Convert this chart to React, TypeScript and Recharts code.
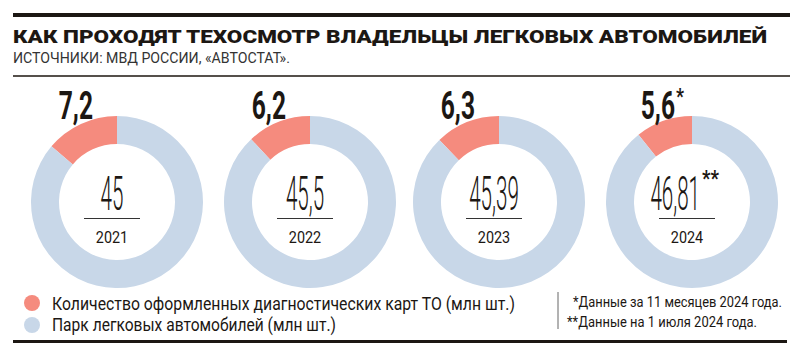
import React from 'react';
import { PieChart, Pie, Cell } from 'recharts';

const years = ['2021', '2022', '2023', '2024'];
const inspections = [7.2, 6.2, 6.3, 5.6];
const fleet = [45, 45.5, 45.39, 46.81];
const inspectionMarks = ['', '', '', '*'];
const fleetMarks = ['', '', '', '**'];
const seriesNames = [
  'Количество оформленных диагностических карт ТО (млн шт.)',
  'Парк легковых автомобилей (млн шт.)',
];
const footnotes = ['*Данные за 11 месяцев 2024 года.', '**Данные на 1 июля 2024 года.'];
const title = 'КАК ПРОХОДЯТ ТЕХОСМОТР ВЛАДЕЛЬЦЫ ЛЕГКОВЫХ АВТОМОБИЛЕЙ';
const subtitle = 'ИСТОЧНИКИ: МВД РОССИИ, «АВТОСТАТ».';

const RED = '#F58B7E';
const BLUE = '#C8D7E8';
const INK = '#1c1713';

const W = 800;
const H = 355;
const CY = 197;
const centers = [112, 305, 494, 687];
const FONT = "Roboto, 'Liberation Sans', sans-serif";

const fmt = (v: number) => String(v).replace('.', ',');

export default function App() {
  return (
    <div style={{ position: 'absolute', left: 0, top: 0, width: W, height: H, background: '#fff' }}>
      <PieChart width={W} height={H} style={{ position: 'absolute', left: 0, top: 0 }}>
        {years.map((y, i) => (
          <Pie
            key={y}
            data={[
              { name: seriesNames[0], value: inspections[i] },
              { name: seriesNames[1], value: fleet[i] },
            ]}
            dataKey="value"
            cx={centers[i]}
            cy={CY}
            innerRadius={58}
            outerRadius={86}
            startAngle={90}
            endAngle={450}
            stroke="none"
            isAnimationActive={false}
          >
            <Cell fill={RED} />
            <Cell fill={BLUE} />
          </Pie>
        ))}
      </PieChart>

      <svg width={W} height={H} style={{ position: 'absolute', left: 0, top: 0, pointerEvents: 'none' }} fontFamily={FONT}>
        {/* header */}
        <rect x={13} y={13} width={777} height={4} fill={INK} />
        <text x={13} y={43} fontSize={19} fontWeight={900} fill={INK} textLength={754} lengthAdjust="spacingAndGlyphs">
          {title}
        </text>
        <text x={13} y={63} fontSize={14} fill="#333" textLength={277} lengthAdjust="spacingAndGlyphs">
          {subtitle}
        </text>
        <rect x={13} y={75} width={777} height={2} fill="#55504b" />

        {years.map((y, i) => {
          const cx = centers[i];
          const mark = inspectionMarks[i];
          const labelEnd = cx - (mark ? 12 : 19);
          const fMark = fleetMarks[i];
          return (
            <g key={y}>
              <text transform={`translate(${labelEnd},119) scale(0.63,1)`} textAnchor="end" fontSize={39} fontWeight={700} fill={INK}>
                {fmt(inspections[i])}
              </text>
              {mark && (
                <text transform={`translate(${labelEnd + 1},104) scale(0.8,1)`} fontSize={22} fontWeight={700} fill={INK}>
                  {mark}
                </text>
              )}
              <text
                transform={`translate(${fMark ? cx + 13 : cx},210) scale(0.42,1)`}
                textAnchor={fMark ? 'end' : 'middle'}
                fontSize={49}
                fontWeight={300}
                fill={INK}
              >
                {fmt(fleet[i])}
              </text>
              {fMark && (
                <text transform={`translate(${cx + 15},186) scale(0.85,1)`} fontSize={22} fontWeight={700} fill={INK}>
                  {fMark}
                </text>
              )}
              <line x1={cx - 28} x2={cx + 28} y1={218.5} y2={218.5} stroke="#333" strokeWidth={1} />
              <text transform={`translate(${cx},243) scale(0.9,1)`} textAnchor="middle" fontSize={16} fill={INK}>
                {y}
              </text>
            </g>
          );
        })}

        {/* legend */}
        <circle cx={32} cy={303} r={8} fill={RED} />
        <circle cx={32} cy={325} r={8} fill={BLUE} />
        <text x={52} y={310} fontSize={18} fill={INK} textLength={463} lengthAdjust="spacingAndGlyphs">
          {seriesNames[0]}
        </text>
        <text x={52} y={331} fontSize={18} fill={INK} textLength={284} lengthAdjust="spacingAndGlyphs">
          {seriesNames[1]}
        </text>

        <line x1={558} x2={558} y1={292} y2={329} stroke="#666" strokeWidth={1} />
        <text x={573} y={307} fontSize={14} fill={INK} textLength={209} lengthAdjust="spacingAndGlyphs">
          {footnotes[0]}
        </text>
        <text x={567} y={327} fontSize={14} fill={INK} textLength={190} lengthAdjust="spacingAndGlyphs">
          {footnotes[1]}
        </text>
        <rect x={13} y={340} width={774} height={3} fill={INK} />
      </svg>
    </div>
  );
}
